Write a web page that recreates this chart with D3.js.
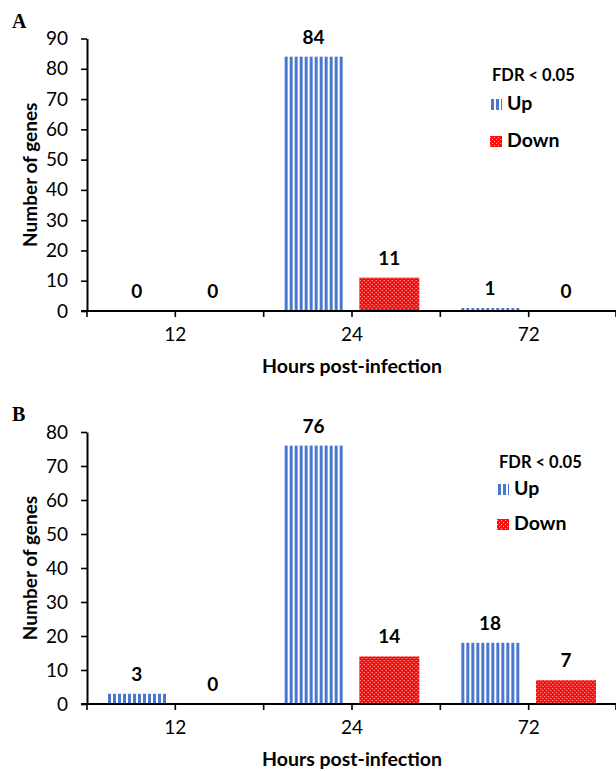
<!DOCTYPE html>
<html>
<head>
<meta charset="utf-8">
<script src="https://cdn.jsdelivr.net/npm/d3@7"></script>
<style>
  body { margin: 0; background: #fff; }
  svg { display: block; font-family: Lato, 'Open Sans', sans-serif; }
</style>
</head>
<body>
<svg width="616" height="771"></svg>
<script>
const hours = ['12', '24', '72']
const seriesNames = ['Up', 'Down']
const upA = [0, 84, 1]
const downA = [0, 11, 0]
const upB = [3, 76, 18]
const downB = [0, 14, 7]
const yTicksA = [0, 10, 20, 30, 40, 50, 60, 70, 80, 90]
const yTicksB = [0, 10, 20, 30, 40, 50, 60, 70, 80]

const svg = d3.select('svg')
const defs = svg.append('defs')

// vertical stripes for "Up"
const up = defs.append('pattern')
  .attr('id', 'pat-up')
  .attr('patternUnits', 'userSpaceOnUse')
  .attr('width', 5).attr('height', 5)
up.append('rect').attr('width', 5).attr('height', 5).attr('fill', '#fff')
up.append('rect').attr('x', 1).attr('width', 3).attr('height', 5).attr('fill', '#4a78cf')

// red dotted grid for "Down"
const down = defs.append('pattern')
  .attr('id', 'pat-down')
  .attr('patternUnits', 'userSpaceOnUse')
  .attr('width', 4).attr('height', 4)
down.append('rect').attr('width', 4).attr('height', 4).attr('fill', '#ff0d0d')
down.append('rect').attr('x', 0).attr('y', 0).attr('width', 1).attr('height', 1).attr('fill', '#ffb3b3')
down.append('rect').attr('x', 2).attr('y', 2).attr('width', 1).attr('height', 1).attr('fill', '#ffb3b3')

const fills = { Up: 'url(#pat-up)', Down: 'url(#pat-down)' }

function drawPanel(p) {
  const g = svg.append('g')

  const x = d3.scaleBand().domain(hours).range([87, 617])
  const bw = x.bandwidth()
  const x1 = d3.scaleBand().domain(seriesNames)
    .range([bw * 0.112, bw * 0.881])
    .paddingInner(0.2105)
  const y = d3.scaleLinear().domain([0, p.yMax]).range([p.y0, p.yTop])

  // panel letter
  g.append('text')
    .attr('x', 12).attr('y', p.letterY)
    .style('font-family', "'Liberation Serif', serif")
    .style('font-weight', 'bold').style('font-size', '20px')
    .text(p.letter)

  // bars
  const rows = hours.map((h, i) => ({ h, Up: p.up[i], Down: p.down[i] }))
  const grp = g.selectAll('g.grp').data(rows).enter().append('g')
    .attr('transform', d => `translate(${x(d.h)},0)`)

  grp.selectAll('rect')
    .data(d => seriesNames.map(s => ({ s, v: d[s] })))
    .enter().append('rect')
    .attr('x', d => x1(d.s))
    .attr('width', x1.bandwidth())
    .attr('y', d => y(d.v))
    .attr('height', d => y(0) - y(d.v))
    .attr('fill', d => fills[d.s])

  grp.selectAll('text')
    .data(d => seriesNames.map(s => ({ s, v: d[s] })))
    .enter().append('text')
    .attr('x', d => x1(d.s) + x1.bandwidth() / 2)
    .attr('y', d => y(d.v) - 13)
    .attr('text-anchor', 'middle')
    .style('font-weight', 'bold').style('font-size', '19px')
    .text(d => d.v)

  // y axis
  const yAxis = g.append('g')
    .attr('transform', 'translate(87,0)')
    .call(d3.axisLeft(y).tickValues(p.yTicks).tickSize(6).tickSizeOuter(0).tickPadding(13))
  yAxis.select('.domain').attr('stroke', '#000').attr('stroke-width', 2)
  yAxis.selectAll('.tick line').attr('stroke', '#000').attr('stroke-width', 1.6)
  yAxis.selectAll('.tick text')
    .style('font-family', 'Lato, sans-serif').style('font-size', '19px').attr('fill', '#000')

  // x axis
  const xAxis = g.append('g')
    .attr('transform', `translate(0,${p.y0})`)
    .call(d3.axisBottom(x).tickSize(6).tickSizeOuter(0).tickPadding(11))
  xAxis.select('.domain').remove()
  xAxis.append('line')
    .attr('x1', 81).attr('x2', 616)
    .attr('stroke', '#000').attr('stroke-width', 2)
  xAxis.selectAll('.tick line').attr('stroke', '#000').attr('stroke-width', 1.6)
  xAxis.selectAll('.tick text')
    .style('font-family', 'Lato, sans-serif').style('font-size', '19px').attr('fill', '#000')
  // boundary ticks between categories
  xAxis.selectAll('line.edge')
    .data(hours.map(h => x(h)).concat([x.range()[1] - 1]))
    .enter().append('line')
    .attr('class', 'edge')
    .attr('x1', d => d).attr('x2', d => d)
    .attr('y1', 0).attr('y2', 6)
    .attr('stroke', '#000').attr('stroke-width', 1.6)

  // axis titles
  g.append('text')
    .attr('transform', `translate(37,${(p.y0 + p.yTop) / 2}) rotate(-90)`)
    .attr('text-anchor', 'middle')
    .style('font-weight', 'bold').style('font-size', '19px')
    .text('Number of genes')

  g.append('text')
    .attr('x', 352).attr('y', p.y0 + 62)
    .attr('text-anchor', 'middle')
    .style('font-weight', 'bold').style('font-size', '19.5px')
    .text('Hours post-infection')

  // legend
  const lg = g.append('g').attr('transform', `translate(${p.legX},${p.legY})`)
  lg.append('text')
    .attr('x', 2).attr('y', 0)
    .style('font-weight', 'bold').style('font-size', '16.5px')
    .text('FDR < 0.05')
  seriesNames.forEach((s, i) => {
    const yy = p.legRowY[i]
    lg.append('rect')
      .attr('x', 0).attr('y', yy - 11)
      .attr('width', 12).attr('height', 11)
      .attr('fill', fills[s])
    lg.append('text')
      .attr('x', 17).attr('y', yy)
      .style('font-weight', 'bold').style('font-size', '19.5px')
      .text(s)
  })
}

drawPanel({
  letter: 'A', letterY: 28,
  up: upA, down: downA, yMax: 90, yTicks: yTicksA,
  y0: 311, yTop: 38.5,
  legX: 490, legY: 81, legRowY: [29, 66]
})

drawPanel({
  letter: 'B', letterY: 421,
  up: upB, down: downB, yMax: 80, yTicks: yTicksB,
  y0: 704, yTop: 432,
  legX: 497, legY: 468, legRowY: [27, 62]
})
</script>
</body>
</html>
